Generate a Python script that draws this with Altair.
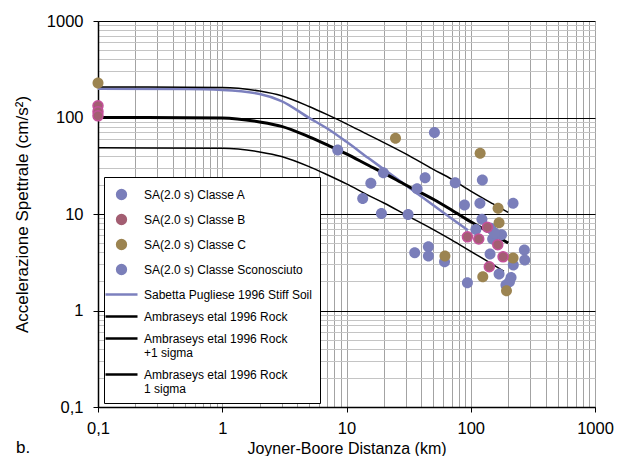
import altair as alt
import pandas as pd

FONT = "Liberation Sans"

# ---- series names ----
S_A = "SA(2.0 s) Classe A"
S_B = "SA(2.0 s) Classe B"
S_C = "SA(2.0 s) Classe C"
S_U = "SA(2.0 s) Classe Sconosciuto"
S_SAB = "Sabetta Pugliese 1996 Stiff Soil"
S_AMB = "Ambraseys etal 1996 Rock"
S_AMBP = "Ambraseys etal 1996 Rock|+1 sigma"
S_AMBM = "Ambraseys etal 1996 Rock|1 sigma"
names = [S_A, S_B, S_C, S_U, S_SAB, S_AMB, S_AMBP, S_AMBM]
colors = ["#7A7EBA", "#A35E72", "#9C8451", "#7B7FB9", "#7C80BE", "#000000", "#000000", "#000000"]
CIRCLE = "M0.55,0A0.55,0.55,0,1,1,-0.55,0A0.55,0.55,0,1,1,0.55,0Z"
DASH = "M-2,0L2,0"
shapes = [CIRCLE, CIRCLE, CIRCLE, CIRCLE, DASH, DASH, DASH, DASH]

# ---- observed points (Joyner-Boore distance km, SA cm/s2) ----
a_d = [8.5, 51, 19.8, 15.7, 42.9, 37, 75, 124, 13.5, 19.1, 31.3, 89, 118.5, 219, 123,
       110, 145, 177, 150, 143, 220, 169, 211, 192, 35.4, 45.6, 45.6, 61.5, 94]
a_v = [46, 70, 26.8, 20.8, 23.8, 18.3, 21.1, 22.5, 14.5, 10.1, 9.9, 12.4, 12.9, 12.9, 8.8,
       6.9, 7.1, 6.1, 5.5, 3.85, 2.96, 2.39, 2.2, 1.84, 3.97, 4.58, 3.67, 3.2, 1.94]
u_d = [270, 272, 205, 155]
u_v = [4.24, 3.34, 1.98, 6.4]
b_d = [0.1, 0.1, 0.1, 94, 116, 136, 165, 182, 141]
b_v = [132, 115, 104, 5.8, 5.5, 7.3, 4.8, 3.6, 2.84]
c_d = [0.1, 24.8, 119, 166, 169, 219, 125, 62, 194]
c_v = [228, 61, 42.6, 11.5, 8.1, 3.5, 2.24, 3.67, 1.6]

# ---- model curves ----
amb_d = [0.1, 1, 2, 3, 5, 7, 10, 15, 20, 30, 50, 70, 100, 150, 200]
amb_v = [100, 99, 90, 81, 63, 52, 42, 32, 26.5, 20, 14.2, 11, 8.3, 6.2, 5.0]
ambp_v = [207, 205, 188, 168, 130, 107, 86, 66, 55, 42, 29, 23, 17.3, 12.8, 10.4]
ambm_d = [0.1, 1, 2, 3, 5, 7, 10, 15, 20, 30, 50, 70, 100, 150, 185]
ambm_v = [48.5, 48, 44, 39.5, 31, 25.5, 20.5, 15.6, 13, 9.8, 6.9, 5.4, 4.1, 3.0, 2.55]
sab_d = [0.1, 0.5, 1, 2, 3, 5, 7, 10, 15, 20, 30, 50, 70, 95]
sab_v = [198, 197, 193, 175, 148, 99, 77, 56, 38, 29, 19.9, 12.3, 9.0, 6.8]

# ---- axis tick lists ----
x_ticks = [round(k * 10 ** e, 6) for e in range(-1, 3) for k in range(1, 10)] + [1000]
y_ticks = x_ticks


def frame(ds, vs, name):
    return pd.DataFrame({"d": ds, "v": vs, "series": [name] * len(ds)})


pts_main = pd.concat([frame(a_d, a_v, S_A), frame(u_d, u_v, S_U), frame(c_d, c_v, S_C)])
pts_b = frame(b_d, b_v, S_B)

DEC = "abs(log(datum.value)/LN10 - round(log(datum.value)/LN10)) < 0.01"

x_scale = alt.Scale(type="log", domain=[0.1, 1000], nice=False)
y_scale = alt.Scale(type="log", domain=[0.1, 1000], nice=False)
color_scale = alt.Scale(domain=names, range=colors)
shape_scale = alt.Scale(domain=names, range=shapes)

x_axis = alt.Axis(
    values=x_ticks, format="~g",
    labelExpr=f"{DEC} ? replace(datum.label, '.', ',') : ''",
    labelOverlap=False, labelFlush=False, labelFont=FONT, labelFontSize=16.5,
    labelColor="black", labelPadding=8,
    grid=True, gridColor="#A3A3A3", gridWidth=1,
    ticks=True, tickSize=5, tickColor={"condition": {"test": DEC, "value": "black"}, "value": "transparent"},
    domainColor="black", domainWidth=1.5,
    title="Joyner-Boore Distanza (km)", titleFont=FONT, titleFontSize=16,
    titleFontWeight="normal", titleColor="black", titleBaseline="alphabetic", titleY=46,
)
y_axis = alt.Axis(
    values=y_ticks, format="~g",
    labelExpr=f"{DEC} ? replace(datum.label, '.', ',') : ''",
    labelOverlap=False, labelFlush=False, labelFont=FONT, labelFontSize=16.5,
    labelColor="black", labelPadding=10,
    grid=True,
    gridColor={"condition": {"test": DEC, "value": "black"}, "value": "#C4C4C4"},
    gridWidth=1,
    ticks=True, tickSize=5, tickColor={"condition": {"test": DEC, "value": "black"}, "value": "transparent"},
    domainColor="black", domainWidth=1.5,
    title="Accelerazione Spettrale (cm/s²)", titleFont=FONT, titleFontSize=17,
    titleFontWeight="normal", titleColor="black", titleX=-76, titleBaseline="middle",
)

legend = alt.Legend(
    title=None, orient="none", legendX=6, legendY=156,
    fillColor="white", strokeColor="black", padding=8,
    symbolSize=256, symbolStrokeWidth=2.5, symbolOpacity=1,
    rowPadding=6, labelFont=FONT, labelFontSize=12, labelColor="black",
    labelLimit=300, labelOffset=13,
    labelExpr="split(datum.label, '|')",
)

X = alt.X("d:Q", scale=x_scale, axis=x_axis)
Y = alt.Y("v:Q", scale=y_scale, axis=y_axis)


def line_layer(ds, vs, name, width):
    return alt.Chart(frame(ds, vs, name)).mark_line(
        strokeWidth=width, interpolate="monotone", clip=False
    ).encode(x=X, y=Y, stroke=alt.Stroke("series:N", scale=color_scale, legend=legend))


l_sab = line_layer(sab_d, sab_v, S_SAB, 2.5)
l_ambp = line_layer(amb_d, ambp_v, S_AMBP, 1.5)
l_amb = line_layer(amb_d, amb_v, S_AMB, 3)
l_ambm = line_layer(ambm_d, ambm_v, S_AMBM, 1.5)

p_main = alt.Chart(pts_main).mark_point(filled=True, size=400, opacity=1, strokeWidth=0).encode(
    x=X, y=Y,
    fill=alt.Fill("series:N", scale=color_scale, legend=legend),
    shape=alt.Shape("series:N", scale=shape_scale, legend=legend),
    stroke=alt.Stroke("series:N", scale=color_scale, legend=legend),
)
p_b = alt.Chart(pts_b).mark_point(filled=True, size=330, opacity=1, stroke="#C4509A", strokeWidth=1.5).encode(
    x=X, y=Y,
    fill=alt.Fill("series:N", scale=color_scale, legend=legend),
    shape=alt.Shape("series:N", scale=shape_scale, legend=legend),
)

tag = alt.Chart(pd.DataFrame({"t": ["b."]})).mark_text(
    align="left", baseline="alphabetic", font=FONT, fontSize=17, color="black"
).encode(x=alt.value(-82), y=alt.value(432), text="t:N")

chart = alt.layer(l_sab, l_ambp, l_amb, l_ambm, p_main, p_b, tag).properties(
    width=497, height=386,
    autosize=alt.AutoSizeParams(type="none"),
    padding={"left": 90, "top": 13, "right": 22, "bottom": 49},
).configure_view(stroke=None).configure(background="white")

chart.save("out.html", embed_options={"renderer": "svg", "actions": False})
